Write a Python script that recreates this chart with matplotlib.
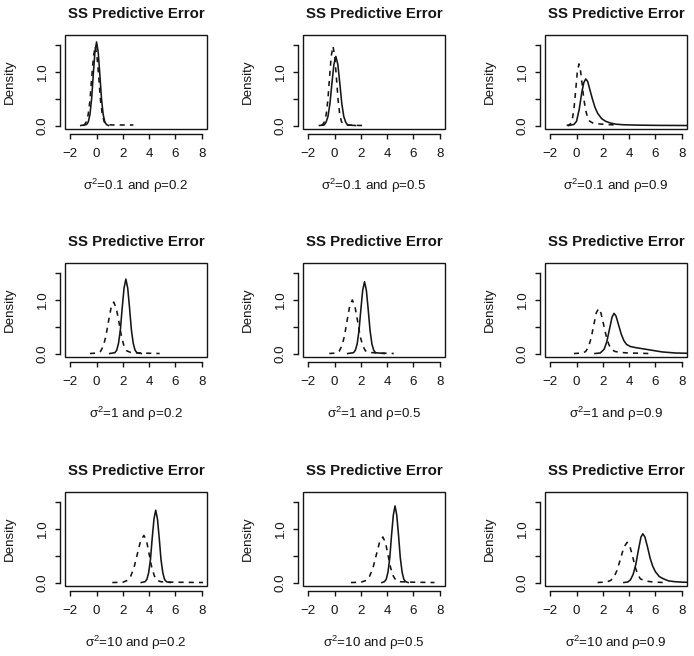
import matplotlib
matplotlib.use("Agg")
import matplotlib.pyplot as plt
from matplotlib.patches import Rectangle

plt.rcParams['font.family'] = ['Liberation Sans', 'DejaVu Sans']
plt.rcParams['mathtext.fontset'] = 'custom'
plt.rcParams['mathtext.rm'] = 'Liberation Sans'
plt.rcParams['mathtext.it'] = 'Liberation Sans:italic'

# panel captions (row by row)
sigma2 = ['0.1', '0.1', '0.1', '1', '1', '1', '10', '10', '10']
rho = ['0.2', '0.5', '0.9', '0.2', '0.5', '0.9', '0.2', '0.5', '0.9']

# solid curves (a) and dashed curves (b)
a1_x = [-1.2, -0.75, -0.625, -0.5, -0.375, -0.25, -0.125, 0, 0.125, 0.25, 0.375, 0.5, 0.625, 0.75, 0.9]
a1_y = [0, 0.02, 0.07, 0.21, 0.50, 0.95, 1.37, 1.56, 1.37, 0.95, 0.50, 0.21, 0.07, 0.02, 0]
b1_x = [-1.0, -0.9, -0.78, -0.64, -0.5, -0.37, -0.23, -0.1, 0.03, 0.17, 0.3, 0.44, 0.58, 0.71, 0.9, 1.2, 1.8, 2.8]
b1_y = [0, 0.02, 0.07, 0.20, 0.47, 0.90, 1.30, 1.48, 1.30, 0.90, 0.47, 0.20, 0.07, 0.03, 0.015, 0.01, 0.01, 0.01]

a2_x = [-1.15, -0.8, -0.65, -0.5, -0.35, -0.2, -0.05, 0.1, 0.25, 0.4, 0.55, 0.7, 0.85, 1.0, 1.6]
a2_y = [0, 0.01, 0.06, 0.17, 0.41, 0.79, 1.14, 1.29, 1.14, 0.79, 0.41, 0.17, 0.06, 0.01, 0]
b2_x = [-1.0, -0.9, -0.77, -0.64, -0.51, -0.38, -0.25, -0.12, 0.01, 0.14, 0.27, 0.4, 0.53, 0.66, 0.9, 1.3, 1.8, 2.3]
b2_y = [0, 0.02, 0.07, 0.20, 0.47, 0.90, 1.30, 1.48, 1.30, 0.90, 0.47, 0.20, 0.07, 0.03, 0.01, 0.005, 0.002, 0]

a3_x = [-0.6, -0.2, 0.0, 0.2, 0.4, 0.55, 0.7, 0.85, 1.0, 1.2, 1.4, 1.6, 1.9, 2.2, 2.6, 3.0, 3.5, 4.5, 6, 8.4]
a3_y = [0, 0.02, 0.08, 0.30, 0.62, 0.80, 0.87, 0.82, 0.68, 0.50, 0.34, 0.23, 0.13, 0.08, 0.045, 0.025, 0.015, 0.008, 0.003, 0]
b3_x = [-0.75, -0.5, -0.35, -0.2, -0.05, 0.05, 0.18, 0.3, 0.42, 0.55, 0.7, 0.85, 1.0, 1.3, 1.7, 2.2, 3.0]
b3_y = [0, 0.02, 0.08, 0.30, 0.70, 0.98, 1.15, 1.02, 0.78, 0.50, 0.28, 0.14, 0.08, 0.04, 0.03, 0.02, 0.01]

a4_x = [1.0, 1.39, 1.53, 1.67, 1.81, 1.95, 2.09, 2.23, 2.37, 2.51, 2.65, 2.79, 2.93, 3.07, 3.4]
a4_y = [0, 0.015, 0.06, 0.19, 0.44, 0.85, 1.22, 1.39, 1.22, 0.85, 0.44, 0.19, 0.06, 0.015, 0]
b4_x = [-0.5, 0.1, 0.3, 0.5, 0.7, 0.9, 1.1, 1.3, 1.5, 1.7, 1.9, 2.1, 2.3, 2.6, 3.2, 4.0, 4.8]
b4_y = [0, 0.01, 0.04, 0.13, 0.31, 0.59, 0.85, 0.96, 0.85, 0.59, 0.31, 0.13, 0.05, 0.02, 0.01, 0.005, 0]

a5_x = [1.0, 1.44, 1.58, 1.72, 1.86, 2.0, 2.14, 2.28, 2.42, 2.56, 2.7, 2.84, 2.98, 3.12, 3.8]
a5_y = [0, 0.015, 0.06, 0.18, 0.43, 0.82, 1.18, 1.34, 1.18, 0.82, 0.43, 0.18, 0.06, 0.015, 0]
b5_x = [-0.4, 0.15, 0.35, 0.55, 0.75, 0.95, 1.15, 1.35, 1.55, 1.75, 1.95, 2.15, 2.35, 2.65, 3.3, 4.0, 4.5]
b5_y = [0, 0.01, 0.04, 0.14, 0.32, 0.61, 0.88, 1.0, 0.88, 0.61, 0.32, 0.14, 0.05, 0.02, 0.01, 0.005, 0]

a6_x = [1.4, 1.8, 2.1, 2.3, 2.5, 2.7, 2.85, 3.0, 3.2, 3.4, 3.6, 3.8, 4.1, 4.5, 5.0, 5.5, 6.0, 6.5, 7.0, 7.5, 8.4]
a6_y = [0, 0.01, 0.08, 0.22, 0.45, 0.68, 0.75, 0.70, 0.53, 0.36, 0.24, 0.17, 0.13, 0.11, 0.09, 0.07, 0.05, 0.03, 0.02, 0.01, 0.005]
b6_x = [-0.2, 0.5, 0.7, 0.9, 1.1, 1.3, 1.5, 1.68, 1.85, 2.05, 2.25, 2.45, 2.65, 2.9, 3.3, 4.0, 4.8, 5.5]
b6_y = [0, 0.01, 0.04, 0.12, 0.28, 0.52, 0.76, 0.84, 0.76, 0.55, 0.33, 0.17, 0.08, 0.04, 0.02, 0.01, 0.005, 0]

a7_x = [3.4, 3.69, 3.83, 3.96, 4.1, 4.23, 4.37, 4.5, 4.63, 4.77, 4.9, 5.04, 5.17, 5.31, 5.6]
a7_y = [0, 0.015, 0.06, 0.18, 0.43, 0.82, 1.19, 1.35, 1.19, 0.82, 0.43, 0.18, 0.06, 0.015, 0]
b7_x = [1.2, 2.0, 2.35, 2.6, 2.85, 3.1, 3.35, 3.6, 3.8, 4.0, 4.2, 4.4, 4.6, 4.9, 5.5, 6.5, 8.1]
b7_y = [0, 0.005, 0.04, 0.12, 0.28, 0.53, 0.78, 0.88, 0.78, 0.53, 0.28, 0.12, 0.04, 0.015, 0.008, 0.004, 0]

a8_x = [3.6, 3.79, 3.93, 4.06, 4.2, 4.33, 4.47, 4.6, 4.73, 4.87, 5.0, 5.14, 5.27, 5.41, 5.6]
a8_y = [0, 0.015, 0.06, 0.19, 0.46, 0.87, 1.26, 1.43, 1.26, 0.87, 0.46, 0.19, 0.06, 0.015, 0]
b8_x = [1.25, 2.0, 2.42, 2.67, 2.92, 3.17, 3.42, 3.67, 3.87, 4.07, 4.27, 4.47, 4.67, 5.0, 5.6, 6.5, 7.6]
b8_y = [0, 0.005, 0.04, 0.12, 0.27, 0.51, 0.75, 0.85, 0.75, 0.51, 0.27, 0.12, 0.04, 0.015, 0.008, 0.004, 0]

a9_x = [3.6, 3.9, 4.1, 4.3, 4.5, 4.7, 4.9, 5.04, 5.2, 5.4, 5.6, 5.8, 6.0, 6.3, 6.6, 7.0, 7.5, 8.0, 8.4]
a9_y = [0, 0.01, 0.05, 0.15, 0.33, 0.60, 0.85, 0.91, 0.85, 0.66, 0.45, 0.30, 0.20, 0.11, 0.07, 0.03, 0.015, 0.007, 0.004]
b9_x = [1.6, 2.3, 2.6, 2.85, 3.1, 3.35, 3.6, 3.85, 4.05, 4.25, 4.45, 4.65, 4.85, 5.2, 5.8, 6.6]
b9_y = [0, 0.01, 0.04, 0.10, 0.24, 0.45, 0.66, 0.75, 0.68, 0.50, 0.30, 0.15, 0.07, 0.03, 0.01, 0]

solid = [(a1_x, a1_y), (a2_x, a2_y), (a3_x, a3_y), (a4_x, a4_y), (a5_x, a5_y),
         (a6_x, a6_y), (a7_x, a7_y), (a8_x, a8_y), (a9_x, a9_y)]
dashed = [(b1_x, b1_y), (b2_x, b2_y), (b3_x, b3_y), (b4_x, b4_y), (b5_x, b5_y),
          (b6_x, b6_y), (b7_x, b7_y), (b8_x, b8_y), (b9_x, b9_y)]

x_ticks = [-2, 0, 2, 4, 6, 8]
y_ticks = [0, 0.5, 1.0, 1.5]
y_labels = ['0.0', '', '1.0', '']

W, H = 694, 656
fig = plt.figure(figsize=(W / 100, H / 100), dpi=100)

col_left = [65, 303, 545]
row_top = [35, 263, 492]
bw, bh = 142, 94
ink = '#151515'
px = 0.72  # points per pixel
fs = 9.6

for i in range(9):
    r, c = divmod(i, 3)
    ax = fig.add_axes([col_left[c] / W, 1 - (row_top[r] + bh) / H, bw / W, bh / H])
    ax.plot(*solid[i], color=ink, lw=1.15)
    ax.plot(*dashed[i], color=ink, lw=1.15, dashes=(3.2, 3.2))
    ax.set_xlim(-2.4, 8.4)
    ax.set_ylim(-0.065, 1.69)

    ax.add_patch(Rectangle((0, 0), 1, 1, transform=ax.transAxes, fill=False,
                           ec=ink, lw=1.0, clip_on=False))
    for s in ['top', 'right']:
        ax.spines[s].set_visible(False)
    for s in ['bottom', 'left']:
        ax.spines[s].set_position(('outward', 5 * px))
        ax.spines[s].set_color(ink)
        ax.spines[s].set_linewidth(1.0)
    ax.spines['bottom'].set_bounds(-2, 8)
    ax.spines['left'].set_bounds(0, 1.5)

    ax.set_xticks(x_ticks)
    ax.set_xticklabels([str(t).replace('-', '\u2212') for t in x_ticks])
    ax.set_yticks(y_ticks)
    ax.set_yticklabels(y_labels, rotation=90, va='center')
    ax.tick_params(length=5 * px, width=1.0, color=ink, labelsize=fs,
                   labelcolor=ink)
    ax.tick_params(axis='x', pad=9 * px)
    ax.tick_params(axis='y', pad=6 * px)

    ax.set_title('SS Predictive Error', fontsize=10.8, fontweight='bold',
                 color=ink, pad=12)
    ax.annotate('$\\mathrm{\\sigma}^{2}$=' + sigma2[i] + ' and \u03c1=' + rho[i],
                xy=(0.5, 0), xycoords='axes fraction',
                xytext=(0, -57 * px), textcoords='offset points',
                ha='center', va='center', fontsize=fs, color=ink)
    ax.annotate('Density', xy=(0, 0.5), xycoords='axes fraction',
                xytext=(-55 * px, 0), textcoords='offset points',
                ha='center', va='center', rotation=90, fontsize=fs, color=ink)

fig.savefig('out.png', dpi=100, facecolor='white')
